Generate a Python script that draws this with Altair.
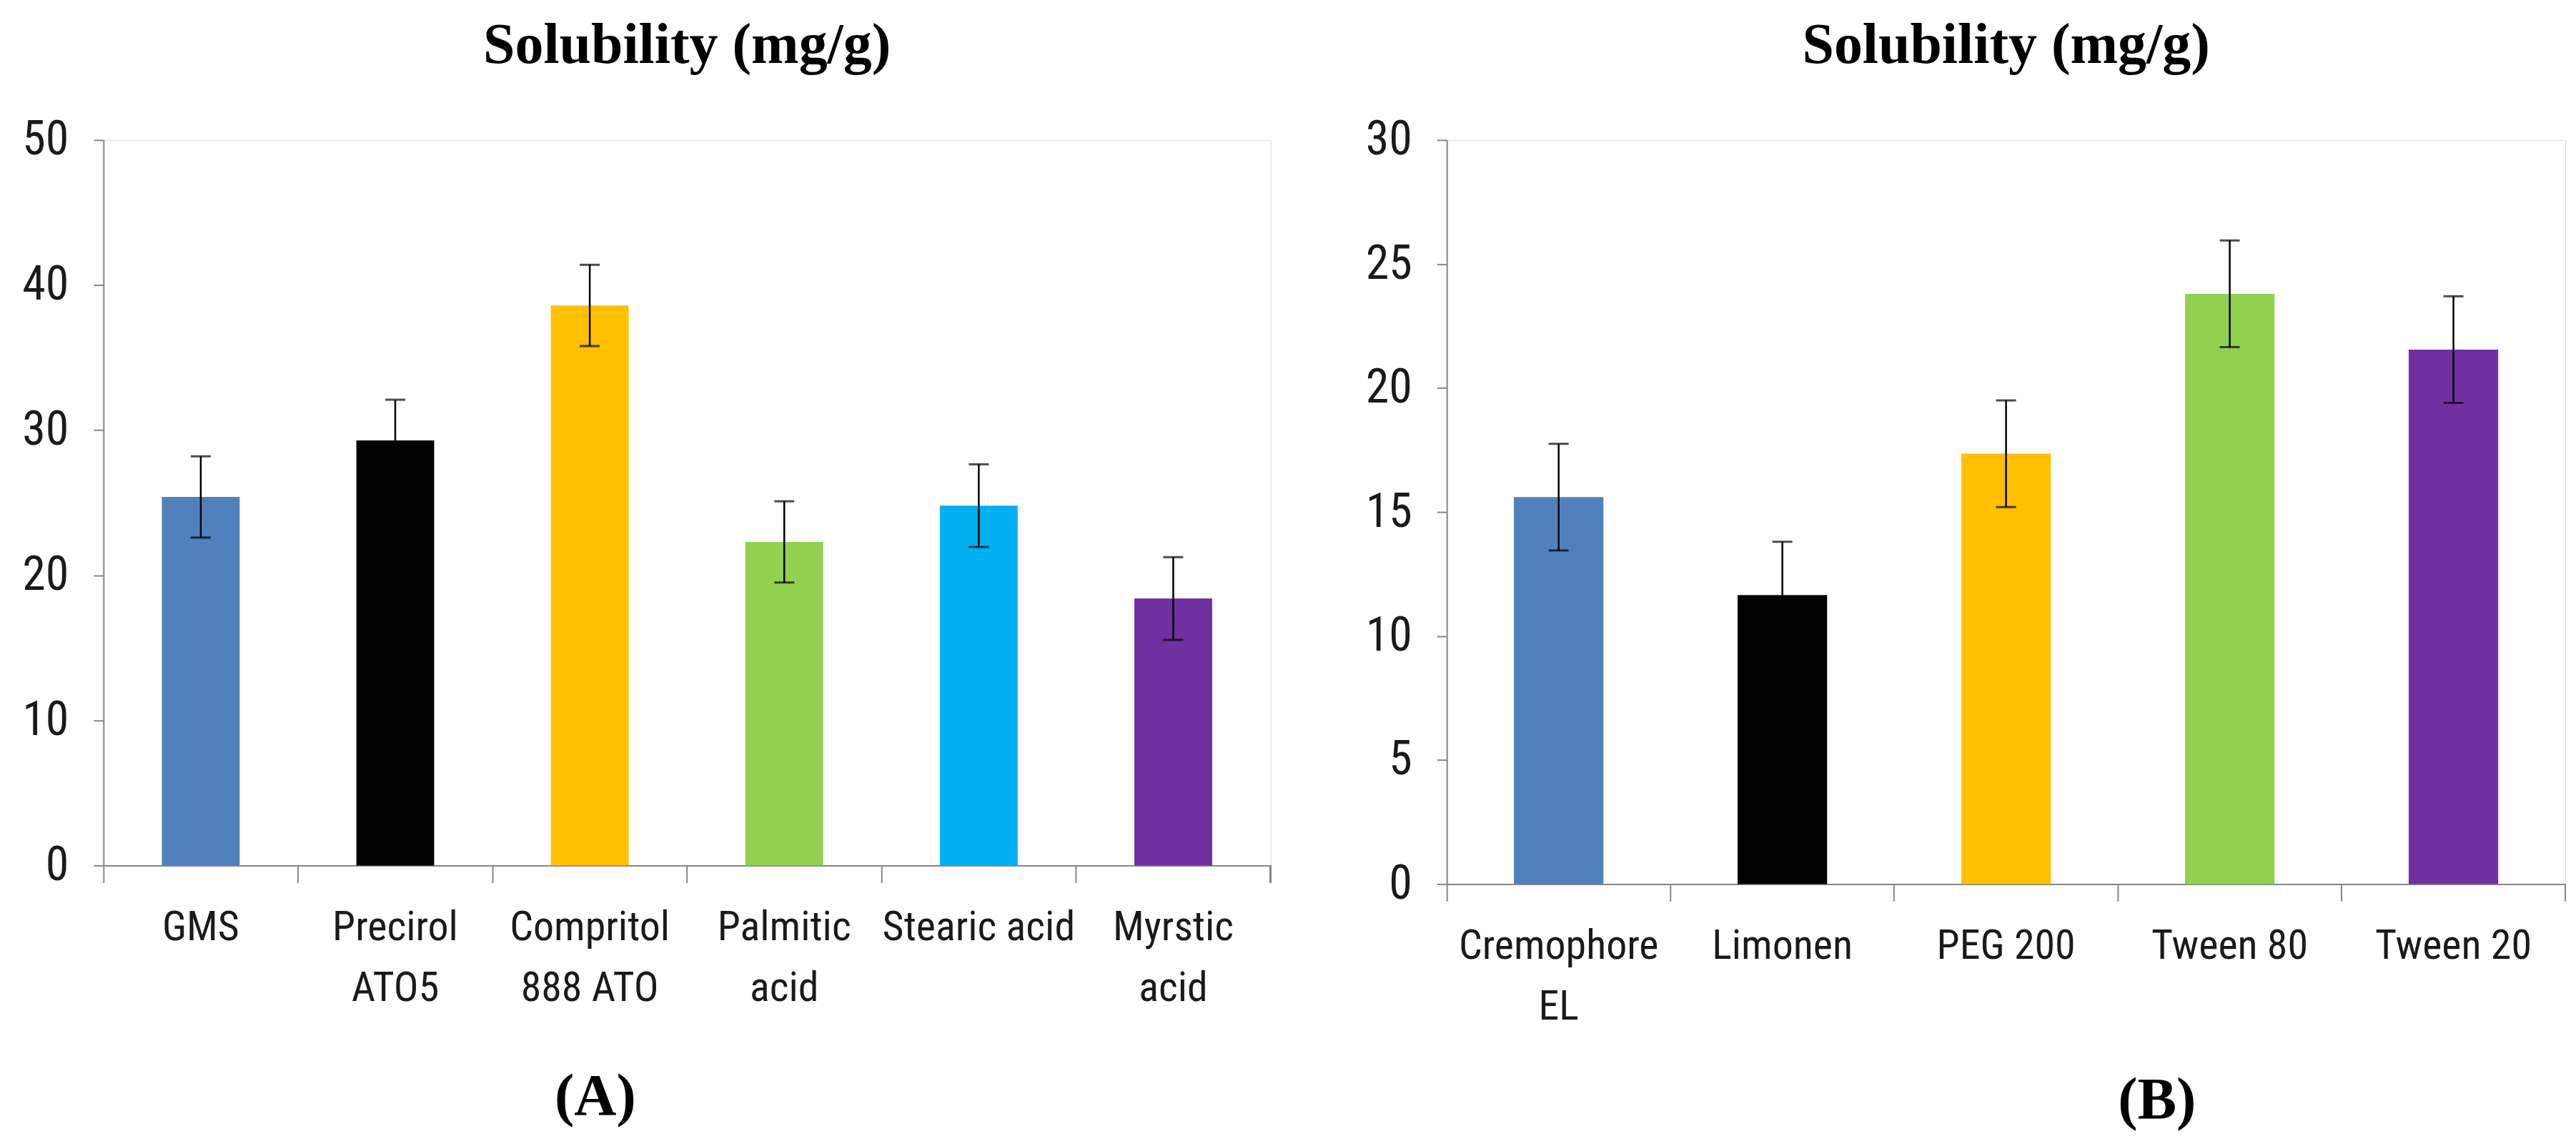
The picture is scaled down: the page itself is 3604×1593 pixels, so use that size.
import altair as alt
import pandas as pd

# Panel A data
cats_a = ["GMS", "Precirol ATO5", "Compritol 888 ATO", "Palmitic acid", "Stearic acid", "Myrstic acid"]
labels_a = ["GMS", "Precirol|ATO5", "Compritol|888 ATO", "Palmitic|acid", "Stearic acid", "Myrstic|acid"]
vals_a = [25.4, 29.3, 38.6, 22.3, 24.8, 18.4]
errs_a = [2.8, 2.8, 2.8, 2.8, 2.85, 2.85]
colors_a = ["#4F81BD", "#000000", "#FFC000", "#92D050", "#00B0F0", "#7030A0"]

# Panel B data
cats_b = ["Cremophore EL", "Limonen", "PEG 200", "Tween 80", "Tween 20"]
labels_b = ["Cremophore|EL", "Limonen", "PEG 200", "Tween 80", "Tween 20"]
vals_b = [15.6, 11.65, 17.35, 23.8, 21.55]
errs_b = [2.15, 2.15, 2.15, 2.15, 2.15]
colors_b = ["#4F81BD", "#000000", "#FFC000", "#92D050", "#7030A0"]

TITLE = "Solubility (mg/g)"
LABEL_FONT = "Liberation Sans Narrow, Arial Narrow, Roboto Condensed, sans-serif"
SERIF = "Liberation Serif, Times New Roman, serif"
GREY = "#868686"


def panel(cats, labels, vals, errs, colors, ymax, ystep, w, h, tag, tag_x, tag_y):
    df = pd.DataFrame({
        "cat": cats,
        "label": labels,
        "v": vals,
        "lo": [v - e for v, e in zip(vals, errs)],
        "hi": [v + e for v, e in zip(vals, errs)],
    })
    xenc = alt.X(
        "label:N",
        sort=labels,
        scale=alt.Scale(paddingInner=0, paddingOuter=0),
        axis=alt.Axis(
            title=None,
            bandPosition=0,
            tickSize=24,
            tickColor=GREY,
            tickWidth=2,
            domainColor=GREY,
            domainWidth=2,
            labelAngle=0,
            labelFont=LABEL_FONT,
            labelFontSize=58,
            labelColor="#1a1a1a",
            labelPadding=34,
            labelLineHeight=85,
            labelBaseline="top",
            labelLimit=0,
            labelOverlap=False,
            labelExpr="split(datum.label, '|')",
        ),
    )
    ticks = list(range(0, ymax + 1, ystep))
    yenc = alt.Y(
        "v:Q",
        scale=alt.Scale(domain=[0, ymax], nice=False),
        axis=alt.Axis(
            title=None,
            values=ticks,
            grid=False,
            tickSize=14,
            tickColor=GREY,
            tickWidth=2,
            domainColor=GREY,
            domainWidth=2,
            labelFont=LABEL_FONT,
            labelFontSize=66,
            labelColor="#1a1a1a",
            labelPadding=35,
        ),
    )
    base = alt.Chart(df)
    bars = base.mark_bar(width={"band": 0.4}).encode(
        x=xenc,
        y=yenc,
        color=alt.Color("label:N", scale=alt.Scale(domain=labels, range=colors), legend=None),
    )
    rule = base.mark_rule(color="#000000", strokeWidth=2.5).encode(
        x=alt.X("label:N", sort=labels), y="lo:Q", y2="hi:Q"
    )
    caps_hi = base.mark_tick(color="#000000", thickness=3, size=28, orient="horizontal").encode(
        x=alt.X("label:N", sort=labels), y="hi:Q"
    )
    caps_lo = base.mark_tick(color="#000000", thickness=3, size=28, orient="horizontal").encode(
        x=alt.X("label:N", sort=labels), y="lo:Q"
    )
    end_tick = base.mark_rule(color=GREY, strokeWidth=2).encode(
        x=alt.value(w), y=alt.value(h), y2=alt.value(h + 24)
    )
    tag_df = pd.DataFrame({"t": [tag]})
    tag_text = alt.Chart(tag_df).mark_text(
        font=SERIF, fontSize=82, fontWeight="bold", color="#000000", align="center", baseline="middle"
    ).encode(text="t:N", x=alt.value(tag_x), y=alt.value(tag_y))
    return alt.layer(bars, rule, caps_hi, caps_lo, end_tick, tag_text).properties(
        width=w,
        height=h,
        title=alt.TitleParams(
            TITLE, font=SERIF, fontSize=80, fontWeight="bold", color="#000000", anchor="middle", offset=58
        ),
    )


pa = panel(cats_a, labels_a, vals_a, errs_a, colors_a, 50, 10, 1635, 1016, "(A)", 689, 1340)
pb = panel(cats_b, labels_b, vals_b, errs_b, colors_b, 30, 5, 1567, 1042, "(B)", 995, 1345)

chart = alt.hconcat(pa, pb, spacing=130).resolve_scale(x="independent", y="independent", color="independent").properties(
    padding={"left": 22, "top": 14, "right": 5, "bottom": 5}
).configure_view(stroke=None).configure(background="white")

chart.save("out.html", embed_options={"renderer": "svg", "actions": False})
